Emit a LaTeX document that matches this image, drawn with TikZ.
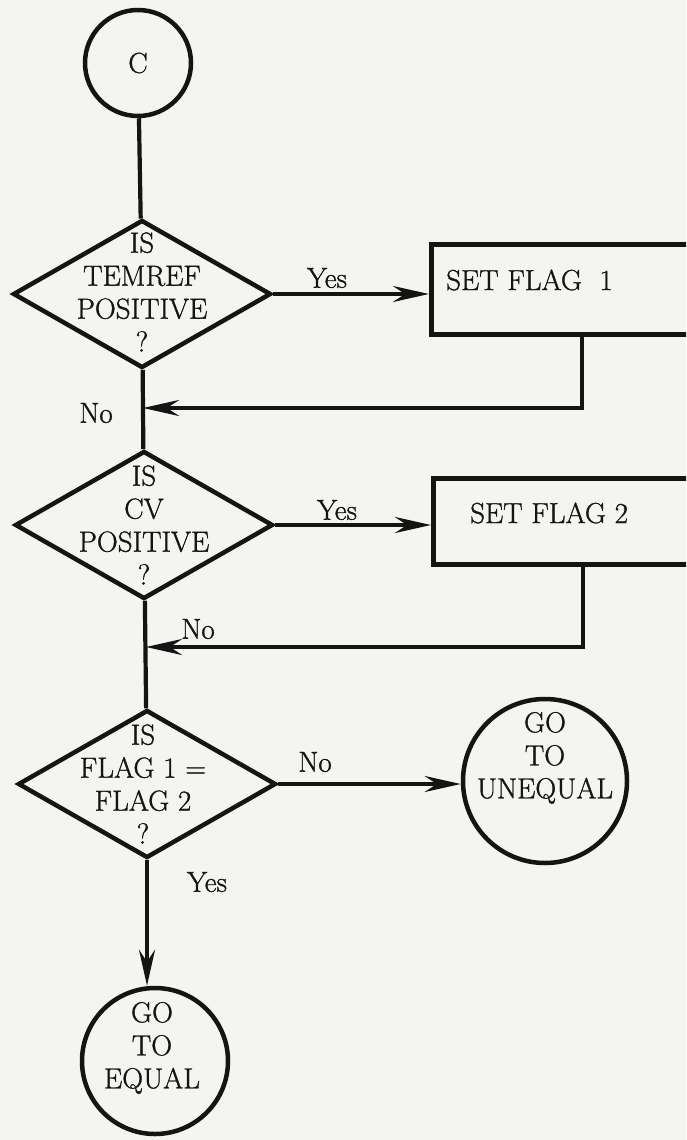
\documentclass[tikz,border=0pt]{standalone}
\usepackage{fontspec}
\setmainfont{Latin Modern Roman}[FakeBold=1]
\usetikzlibrary{shapes.geometric,arrows.meta}
\definecolor{paper}{RGB}{244,244,241}
\definecolor{ink}{RGB}{20,20,20}
\tikzset{
  x=1pt, y=-1pt,
  every node/.style={font=\fontsize{29}{33}\selectfont, text=ink},
  ln/.style={draw=ink, line width=4.2pt},
  arr/.style={draw=ink, line width=4.2pt, -{Stealth[length=36pt,width=16pt,inset=12pt]}},
  dia/.style={shape=diamond, draw=ink, line width=4.5pt, minimum width=258pt, minimum height=148pt, inner sep=0pt},
  circ/.style={circle, draw=ink, line width=4.5pt, inner sep=0pt},
  boxs/.style={rectangle, draw=ink, line width=4.5pt, inner sep=0pt},
  lbl/.style={inner sep=0pt, align=center},
}
\begin{document}
\begin{tikzpicture}
\useasboundingbox (0,0) rectangle (686,1140);
\fill[paper] (0,0) rectangle (686,1140);
\clip (0,0) rectangle (686,1140);
% nodes
\node[circ, minimum size=106pt] (c) at (138,63) {C};
\node[dia] (d1) at (142,294) {};
\node[lbl] (d1t) at (142,292) {IS\\TEMREF\\POSITIVE\\?};
\node[boxs, anchor=north west, minimum width=300pt, minimum height=90pt] (b1) at (429,242) {};
\node[lbl, anchor=west] (b1t) at (446,280) {SET FLAG\ \ 1};
\node[dia] (d2) at (144,525) {};
\node[lbl] (d2t) at (144,525) {IS\\CV\\POSITIVE\\?};
\node[boxs, anchor=north west, minimum width=300pt, minimum height=86pt] (b2) at (431,476) {};
\node[lbl, anchor=west] (b2t) at (470,513) {SET FLAG 2};
\node[dia] (d3) at (147,784) {};
\node[lbl] (d3t) at (143,784) {IS\\FLAG 1 =\\FLAG 2\\?};
\node[circ, minimum size=164pt] (ue) at (545,781) {};
\node[lbl] (uet) at (545,758) {GO\\TO\\UNEQUAL};
\node[circ, minimum size=146pt] (eq) at (155,1061) {};
\node[lbl] (eqt) at (152,1048) {GO\\TO\\EQUAL};
% labels
\node[lbl] (y1) at (327,278) {Yes};
\node[lbl] (n1) at (96,413) {No};
\node[lbl] (y2) at (337,510) {Yes};
\node[lbl] (n2) at (198,629) {No};
\node[lbl] (n3) at (315,762) {No};
\node[lbl] (y3) at (207,882) {Yes};
% junction coordinates
\coordinate (r1) at (582,408);
\coordinate (j1) at (143,408);
\coordinate (r2) at (583,647);
\coordinate (j2) at (146,647);
% connectors
\draw[ln] (c) -- (d1);
\draw[arr] (d1.east) -- (d1.east -| b1.west);
\draw[arr] (b1.south -| r1) -- (r1) -- (j1);
\draw[ln] (d1) -- (d2);
\draw[arr] (d2.east) -- (d2.east -| b2.west);
\draw[arr] (b2.south -| r2) -- (r2) -- (j2);
\draw[ln] (d2) -- (d3);
\draw[arr] (d3.east) -- (d3.east -| ue.west);
\draw[arr] (d3.south) -- (d3.south |- eq.north);
\end{tikzpicture}
\end{document}
